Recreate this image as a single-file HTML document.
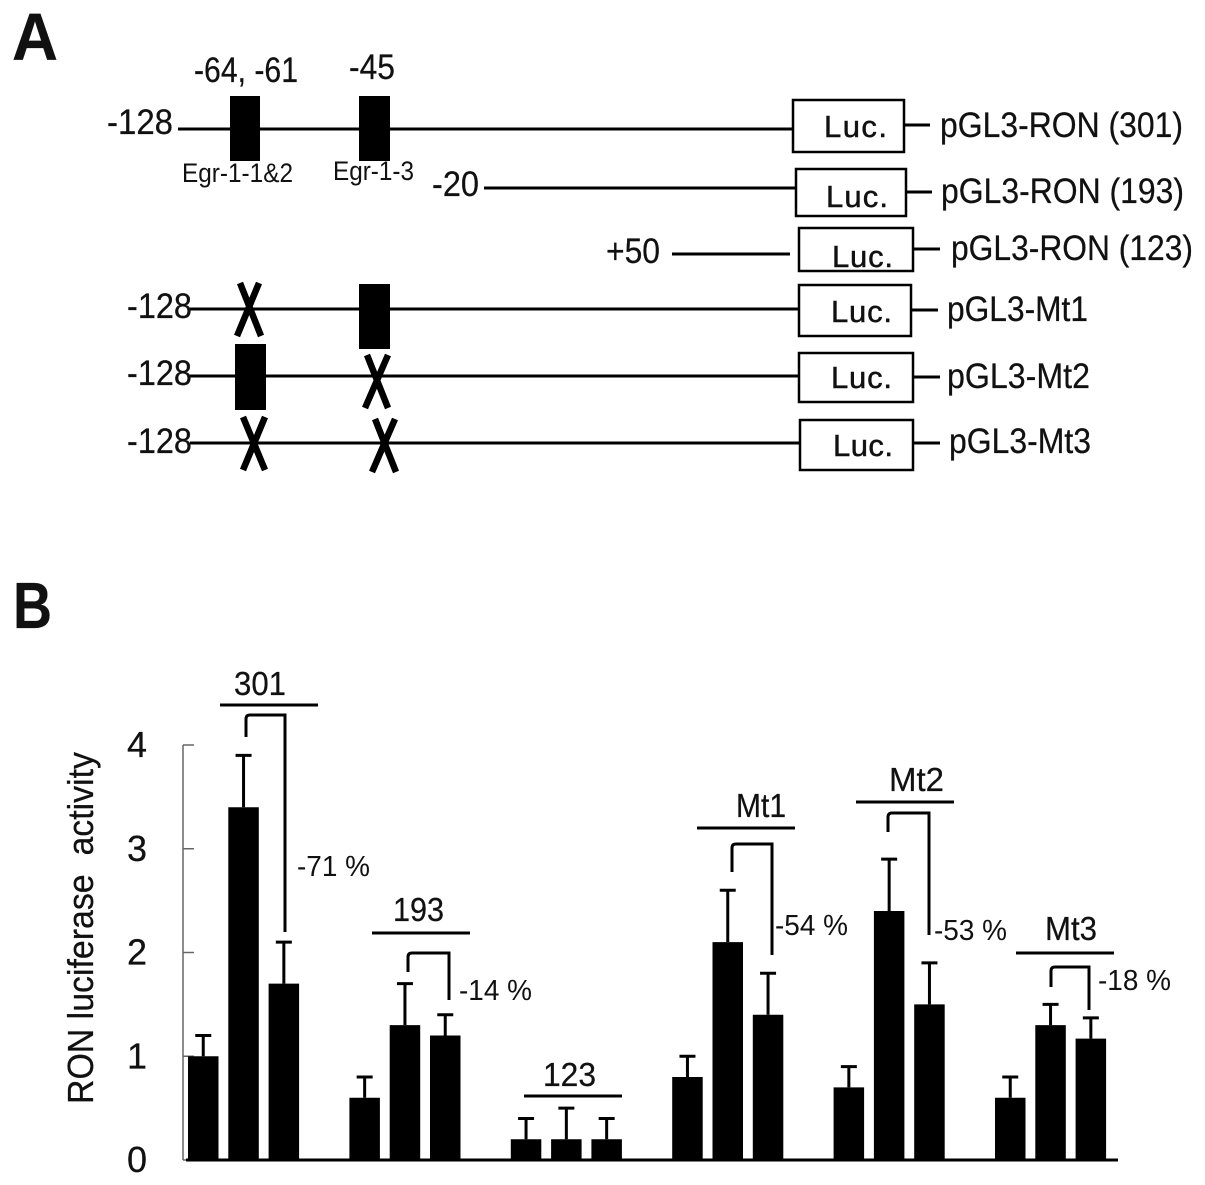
<!DOCTYPE html>
<html lang="en">
<head>
<meta charset="utf-8">
<title>RON promoter constructs and luciferase activity</title>
<style>
html,body{margin:0;padding:0;background:#fff;}
svg{display:block;}
text{font-family:"Liberation Sans",Arial,sans-serif;fill:#111;stroke:#111;stroke-width:0.25;}
</style>
</head>
<body>
<svg id="fig" xmlns="http://www.w3.org/2000/svg" width="1205" height="1185" viewBox="0 0 1205 1185">
<rect x="0" y="0" width="1205" height="1185" fill="#fff"/>
<text x="12" y="60" font-size="67" font-weight="bold" textLength="46" lengthAdjust="spacingAndGlyphs">A</text>
<g stroke="#000" stroke-width="3" fill="none">
<path d="M178 129H793M904 125H930"/>
<path d="M484 188H795M906 192H932"/>
<path d="M672 254H790M913 249H940"/>
<path d="M190 309H798M911 310H938"/>
<path d="M190 376H798M913 377H940"/>
<path d="M190 443H800M913 443H940"/>
<rect x="793" y="100" width="111" height="52" fill="#fff" stroke-width="2.5"/>
<rect x="796" y="169" width="110" height="47" fill="#fff" stroke-width="2.5"/>
<rect x="799" y="228" width="114" height="43" fill="#fff" stroke-width="2.5"/>
<rect x="799" y="285" width="112" height="51" fill="#fff" stroke-width="2.5"/>
<rect x="799" y="353" width="114" height="49" fill="#fff" stroke-width="2.5"/>
<rect x="800" y="420" width="113" height="50" fill="#fff" stroke-width="2.5"/>
</g>
<g fill="#000">
<rect x="230" y="96" width="30" height="65"/>
<rect x="359" y="96" width="31" height="65"/>
<rect x="359" y="284" width="31" height="65"/>
<rect x="235" y="344" width="31" height="66"/>
</g>
<g stroke="#000" stroke-width="6.5" fill="none">
<path d="M240 283L261 336M259 283L237 336"/>
<path d="M367 355L388 408M388 355L365 408"/>
<path d="M243 417L265 470M265 417L243 470"/>
<path d="M375 419L396 472M395 419L372 472"/>
</g>
<g font-size="35">
<text x="194" y="82" textLength="104" lengthAdjust="spacingAndGlyphs">-64, -61</text>
<text x="349" y="79" textLength="46" lengthAdjust="spacingAndGlyphs">-45</text>
<text x="107" y="134" textLength="66" lengthAdjust="spacingAndGlyphs">-128</text>
<text x="432" y="196" textLength="47" lengthAdjust="spacingAndGlyphs">-20</text>
<text x="606" y="263" textLength="54" lengthAdjust="spacingAndGlyphs">+50</text>
<text x="127" y="318" textLength="65" lengthAdjust="spacingAndGlyphs">-128</text>
<text x="127" y="385" textLength="65" lengthAdjust="spacingAndGlyphs">-128</text>
<text x="127" y="453" textLength="65" lengthAdjust="spacingAndGlyphs">-128</text>
<text x="182" y="182" font-size="27" textLength="111" lengthAdjust="spacingAndGlyphs" style="stroke-width:0">Egr-1-1&amp;2</text>
<text x="333" y="180" font-size="27" textLength="81" lengthAdjust="spacingAndGlyphs" style="stroke-width:0">Egr-1-3</text>
<text x="824" y="137" font-size="31" textLength="63" style="stroke-width:0.5">Luc.</text>
<text x="826" y="207" font-size="31" textLength="62" style="stroke-width:0.5">Luc.</text>
<text x="832" y="267" font-size="31" textLength="61" style="stroke-width:0.5">Luc.</text>
<text x="831" y="322" font-size="31" textLength="61" style="stroke-width:0.5">Luc.</text>
<text x="831" y="388" font-size="31" textLength="61" style="stroke-width:0.5">Luc.</text>
<text x="833" y="456" font-size="31" textLength="60" style="stroke-width:0.5">Luc.</text>
<text x="940" y="137" textLength="243" lengthAdjust="spacingAndGlyphs">pGL3-RON (301)</text>
<text x="941" y="203" textLength="243" lengthAdjust="spacingAndGlyphs">pGL3-RON (193)</text>
<text x="951" y="260" textLength="242" lengthAdjust="spacingAndGlyphs">pGL3-RON (123)</text>
<text x="947" y="321" textLength="141" lengthAdjust="spacingAndGlyphs">pGL3-Mt1</text>
<text x="947" y="388" textLength="143" lengthAdjust="spacingAndGlyphs">pGL3-Mt2</text>
<text x="949" y="453" textLength="142" lengthAdjust="spacingAndGlyphs">pGL3-Mt3</text>
</g>
<text x="13" y="628" font-size="65" font-weight="bold" textLength="39" lengthAdjust="spacingAndGlyphs">B</text>
<g>
<g stroke="#000" stroke-width="3" fill="none">
<path d="M220 705H318"/>
<path d="M372 933H470"/>
<path d="M524 1096H622"/>
<path d="M697 828H795"/>
<path d="M856 802H954"/>
<path d="M1016 953H1114"/>
</g>
<g stroke="#000" stroke-width="3" fill="none">
<path d="M246 737V719Q246 715 250 715H285V932"/>
<path d="M408 972V957Q408 953 412 953H449V1000"/>
<path d="M732 872V848Q732 844 736 844H772V955"/>
<path d="M888 832V817Q888 813 892 813H929V935"/>
<path d="M1051 987V971Q1051 967 1055 967H1089V1010"/>
</g>
<g font-size="33">
<text x="234" y="695" textLength="52" lengthAdjust="spacingAndGlyphs">301</text>
<text x="393" y="921" textLength="51" lengthAdjust="spacingAndGlyphs">193</text>
<text x="543" y="1086" textLength="53" lengthAdjust="spacingAndGlyphs">123</text>
<text x="736" y="817" textLength="50" lengthAdjust="spacingAndGlyphs">Mt1</text>
<text x="889" y="791" textLength="55" lengthAdjust="spacingAndGlyphs">Mt2</text>
<text x="1045" y="940" textLength="52" lengthAdjust="spacingAndGlyphs">Mt3</text>
</g>
<g font-size="29">
<text x="297" y="876" textLength="73" lengthAdjust="spacingAndGlyphs" style="stroke-width:0">-71 %</text>
<text x="459" y="1000" textLength="73" lengthAdjust="spacingAndGlyphs" style="stroke-width:0">-14 %</text>
<text x="775" y="935" textLength="73" lengthAdjust="spacingAndGlyphs" style="stroke-width:0">-54 %</text>
<text x="934" y="940" textLength="73" lengthAdjust="spacingAndGlyphs" style="stroke-width:0">-53 %</text>
<text x="1098" y="990" textLength="73" lengthAdjust="spacingAndGlyphs" style="stroke-width:0">-18 %</text>
</g>
</g>
<text transform="translate(93 1104) rotate(-90)" font-size="36" textLength="352" lengthAdjust="spacingAndGlyphs">RON luciferase&#160; activity</text>
<g id="chart"></g>
</svg>
<script>
const categories = ["301", "193", "123", "Mt1", "Mt2", "Mt3"];
const barValues = [
  [1.0, 3.4, 1.7],
  [0.6, 1.3, 1.2],
  [0.2, 0.2, 0.2],
  [0.8, 2.1, 1.4],
  [0.7, 2.4, 1.5],
  [0.6, 1.3, 1.17]
];
const errorTops = [
  [1.2, 3.9, 2.1],
  [0.8, 1.7, 1.4],
  [0.4, 0.5, 0.4],
  [1.0, 2.6, 1.8],
  [0.9, 2.9, 1.9],
  [0.8, 1.5, 1.37]
];
const yTicks = [0, 1, 2, 3, 4];

const NS = "http://www.w3.org/2000/svg";
const chart = document.getElementById("chart");
function yScale(v) { return 1160 - v * 103.75; }
function xScale(g, b) { return 188 + g * 161.4 + b * 40.3; }
const barWidth = 30.5;

function make(tag, attrs, parent) {
  const el = document.createElementNS(NS, tag);
  for (const k in attrs) el.setAttribute(k, attrs[k]);
  parent.appendChild(el);
  return el;
}

const axis = make("g", {}, chart);


const axisLine = make("path", { d: "M183 " + yScale(yTicks[yTicks.length - 1]) + "V" + yScale(0), stroke: "#666", "stroke-width": 1.5, fill: "none" }, axis);


yTicks.forEach(function (t) {
  const tick = make("path", { d: "M183 " + yScale(t) + "H194", stroke: "#666", "stroke-width": 1.5, fill: "none" }, axis);
  
  
  const label = make("text", { x: 127, y: yScale(t) + 12, "font-size": 36 }, axis);
  
  
  label.textContent = t;
});

categories.forEach(function (cat, g) {
  const group = make("g", {}, chart);
  
  
  barValues[g].forEach(function (v, b) {
    const x = xScale(g, b);
    const cx = x + barWidth / 2;
    const stem = make("path", {
      d: "M" + cx + " " + yScale(v) + "V" + yScale(errorTops[g][b]) + "M" + (cx - 8) + " " + yScale(errorTops[g][b]) + "H" + (cx + 8),
      stroke: "#000", "stroke-width": 3, fill: "none"
    }, group);
    
    
    const bar = make("rect", { x: x, y: yScale(v), width: barWidth, height: yScale(0) - yScale(v), fill: "#000" }, group);
    
    
  });
});

const baseline = make("path", { d: "M186 " + yScale(0) + "H1118", stroke: "#000", "stroke-width": 3, fill: "none" }, chart);


</script>
</body>
</html>
